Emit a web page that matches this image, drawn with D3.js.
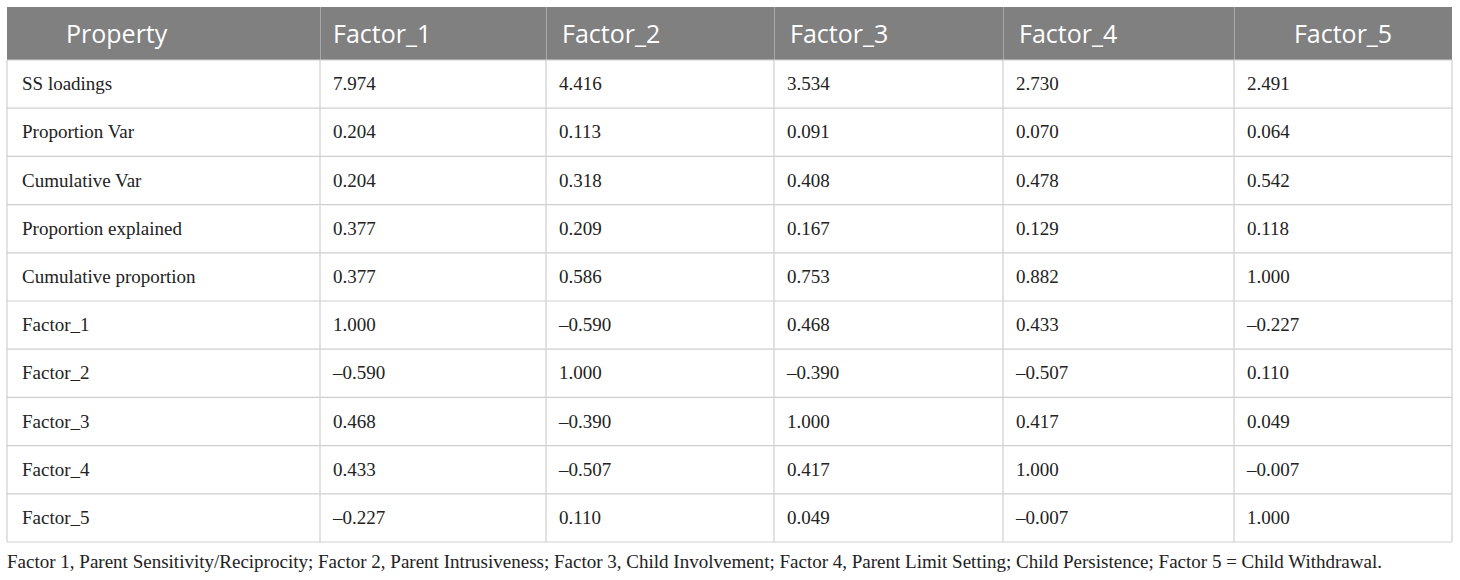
<!DOCTYPE html>
<html>
<head>
<meta charset="utf-8">
<script src="https://cdn.jsdelivr.net/npm/d3@7"></script>
<style>
  body { margin: 0; background: #fff; }
</style>
</head>
<body>
<div id="chart"></div>
<script>
"use strict";

// table data
const headers = ["Property", "Factor_1", "Factor_2", "Factor_3", "Factor_4", "Factor_5"];
const rowLabels = ["SS loadings", "Proportion Var", "Cumulative Var", "Proportion explained",
    "Cumulative proportion", "Factor_1", "Factor_2", "Factor_3", "Factor_4", "Factor_5"];

const ssLoadings = [7.974, 4.416, 3.534, 2.730, 2.491];
const proportionVar = [0.204, 0.113, 0.091, 0.070, 0.064];
const cumulativeVar = [0.204, 0.318, 0.408, 0.478, 0.542];
const proportionExplained = [0.377, 0.209, 0.167, 0.129, 0.118];
const cumulativeProportion = [0.377, 0.586, 0.753, 0.882, 1.000];
const corrFactor1 = [1.000, -0.590, 0.468, 0.433, -0.227];
const corrFactor2 = [-0.590, 1.000, -0.390, -0.507, 0.110];
const corrFactor3 = [0.468, -0.390, 1.000, 0.417, 0.049];
const corrFactor4 = [0.433, -0.507, 0.417, 1.000, -0.007];
const corrFactor5 = [-0.227, 0.110, 0.049, -0.007, 1.000];

const note = "Factor 1, Parent Sensitivity/Reciprocity; Factor 2, Parent Intrusiveness; Factor 3, Child Involvement; Factor 4, Parent Limit Setting; Child Persistence; Factor 5 = Child Withdrawal.";

const rowValues = [ssLoadings, proportionVar, cumulativeVar, proportionExplained, cumulativeProportion,
    corrFactor1, corrFactor2, corrFactor3, corrFactor4, corrFactor5];

// layout
const width = 1460, height = 580;
const tLeft = 7, tRight = 1452, tTop = 7, headBottom = 60, tBottom = 542;
const colEdges = [tLeft, 320, 546, 774, 1003, 1234, tRight];

let svg = d3.select("#chart")
    .append("svg")
    .attr("width", width)
    .attr("height", height);

let y = d3.scaleBand()
    .domain(d3.range(rowLabels.length))
    .range([headBottom, tBottom]);

// the journal typesets negatives with an en dash
let fmt = v => d3.format(".3f")(v).replace("\u2212", "\u2013");

// header
svg.append("rect")
    .attr("x", tLeft)
    .attr("y", tTop)
    .attr("width", tRight - tLeft)
    .attr("height", headBottom - tTop)
    .attr("fill", "#808080");

let headG = svg.append("g");
headG.selectAll("line")
    .data(colEdges.slice(1, -1))
    .join("line")
    .attr("x1", d => d + 0.5)
    .attr("x2", d => d + 0.5)
    .attr("y1", tTop)
    .attr("y2", headBottom)
    .attr("stroke", "#a8a8a8")
    .attr("stroke-width", 1);

headG.selectAll("text")
    .data(headers)
    .join("text")
    .attr("x", (d, i) => {
        if (i === 0) return 66;
        if (i === headers.length - 1) return (colEdges[i] + colEdges[i + 1]) / 2;
        return colEdges[i] + (i === 1 ? 13 : 16);
    })
    .attr("y", (tTop + headBottom) / 2 + 9)
    .attr("text-anchor", (d, i) => i === headers.length - 1 ? "middle" : "start")
    .attr("fill", "#fff")
    .style("font-family", "'Open Sans', sans-serif")
    .style("font-size", "25px")
    .text(d => d);

// body grid
let grid = svg.append("g")
    .attr("stroke", "#cfcfcf")
    .attr("stroke-width", 1.2)
    .attr("fill", "none");

grid.selectAll("line.h")
    .data(d3.range(rowLabels.length + 1))
    .join("line")
    .attr("class", "h")
    .attr("x1", tLeft)
    .attr("x2", tRight)
    .attr("y1", i => i < rowLabels.length ? y(i) : tBottom)
    .attr("y2", i => i < rowLabels.length ? y(i) : tBottom);

grid.selectAll("line.v")
    .data(colEdges)
    .join("line")
    .attr("class", "v")
    .attr("x1", d => d)
    .attr("x2", d => d)
    .attr("y1", headBottom)
    .attr("y2", tBottom);

// body text
let rows = svg.selectAll("g.row")
    .data(rowLabels.map((label, i) => ({label, values: rowValues[i], i})))
    .join("g")
    .attr("class", "row")
    .attr("transform", d => `translate(0,${y(d.i) + y.bandwidth() / 2 + 6})`)
    .style("font-family", "'Liberation Serif', 'Times New Roman', serif")
    .style("font-size", "19px")
    .attr("fill", "#222");

rows.append("text")
    .attr("x", tLeft + 15)
    .text(d => d.label);

rows.selectAll("text.val")
    .data(d => d.values)
    .join("text")
    .attr("class", "val")
    .attr("x", (d, j) => colEdges[j + 1] + 13)
    .text(d => fmt(d));

// footnote
svg.append("text")
    .attr("x", tLeft)
    .attr("y", 568)
    .attr("textLength", 1382 - tLeft)
    .attr("lengthAdjust", "spacingAndGlyphs")
    .style("font-family", "'Liberation Serif', 'Times New Roman', serif")
    .style("font-size", "18px")
    .attr("fill", "#222")
    .text(note);
</script>
</body>
</html>
